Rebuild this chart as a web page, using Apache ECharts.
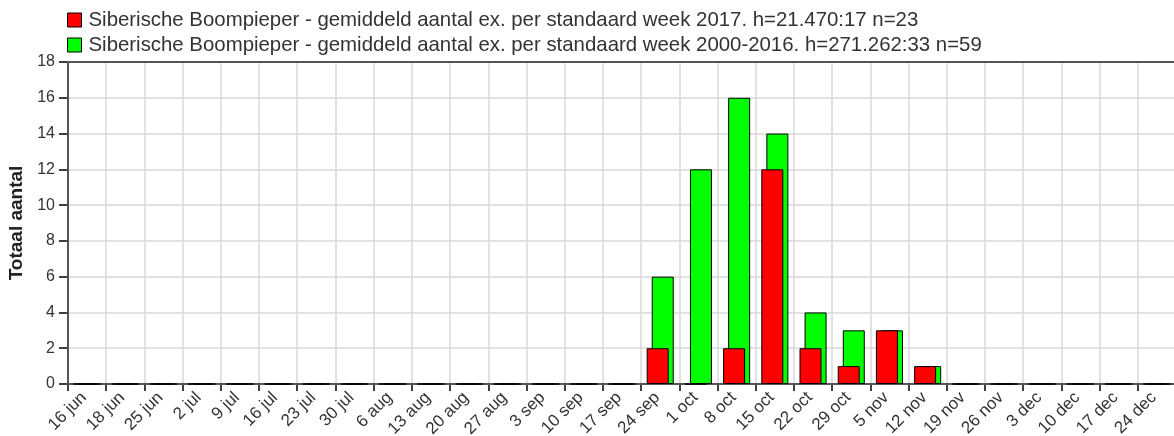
<!DOCTYPE html>
<html>
<head>
<meta charset="utf-8">
<script src="https://cdn.jsdelivr.net/npm/echarts@6/dist/echarts.min.js"></script>
<style>
html,body{margin:0;padding:0;background:#fff;}
#chart{width:1174px;height:436px;}
</style>
</head>
<body>
<div id="chart"></div>
<script>
// Week labels (tick marks at week boundaries)
var weekLabels = ['16 jun','18 jun','25 jun','2 jul','9 jul','16 jul','23 jul','30 jul','6 aug','13 aug','20 aug','27 aug','3 sep','10 sep','17 sep','24 sep','1 oct','8 oct','15 oct','22 oct','29 oct','5 nov','12 nov','19 nov','26 nov','3 dec','10 dec','17 dec','24 dec'];
// Average counts per standard week
var values2017 = [0,0,0,0,0,0,0,0,0,0,0,0,0,0,0,2,0,2,12,2,1,3,1,0,0,0,0,0,0];
var values2000_2016 = [0,0,0,0,0,0,0,0,0,0,0,0,0,0,0,6,12,16,14,4,3,3,1,0,0,0,0,0,0];
var seriesNames = [
  'Siberische Boompieper - gemiddeld aantal ex. per standaard week 2017. h=21.470:17 n=23',
  'Siberische Boompieper - gemiddeld aantal ex. per standaard week 2000-2016. h=271.262:33 n=59'
];
var yTicks = {min: 0, max: 18, interval: 2};

var font = "'Liberation Sans', Arial, sans-serif";
var chart = echarts.init(document.getElementById('chart'), null, {renderer: 'canvas'});
var labelPoints = weekLabels.concat(['']);

chart.setOption({
  animation: false,
  backgroundColor: '#ffffff',
  textStyle: {fontFamily: font},
  legend: {
    orient: 'vertical',
    left: 67,
    top: 10,
    padding: 0,
    itemWidth: 14,
    itemHeight: 14,
    itemGap: 5,
    icon: 'rect',
    data: seriesNames,
    itemStyle: {borderColor: '#000', borderWidth: 1},
    textStyle: {fontSize: 20.4, lineHeight: 20, color: '#333', fontFamily: font, padding: [0, 0, 0, 2]}
  },
  grid: {
    left: 68,
    top: 62,
    width: 1108,
    height: 322,
    containLabel: false,
    outerBoundsMode: 'none',
    show: true,
    z: 1,
    borderColor: '#555',
    borderWidth: 2,
    backgroundColor: 'transparent'
  },
  xAxis: [
    {
      type: 'category',
      data: weekLabels,
      boundaryGap: true,
      axisLine: {show: false},
      axisTick: {show: false},
      axisLabel: {show: false},
      splitLine: {show: false}
    },
    {
      type: 'category',
      data: labelPoints,
      boundaryGap: false,
      position: 'bottom',
      axisLine: {show: true, lineStyle: {color: '#000', width: 1.5}},
      axisTick: {show: true, length: 7, lineStyle: {color: '#000', width: 1.5}},
      axisLabel: {show: true, rotate: 45, interval: 0, fontSize: 17, color: '#333', margin: -5, verticalAlign: 'top', padding: [14, 0, 0, 0], fontFamily: font},
      splitLine: {show: true, interval: 0, lineStyle: {color: '#d9d9d9', width: 1.5}}
    }
  ],
  yAxis: {
    type: 'value',
    min: yTicks.min,
    max: yTicks.max,
    interval: yTicks.interval,
    name: 'Totaal aantal',
    nameLocation: 'middle',
    nameGap: 41,
    nameTextStyle: {fontSize: 19, fontWeight: 'bold', color: '#222', fontFamily: font},
    axisLine: {show: true, lineStyle: {color: '#000', width: 1.5}},
    axisTick: {show: true, length: 9, lineStyle: {color: '#000', width: 1.5}},
    axisLabel: {fontSize: 16, color: '#333', margin: 13, fontFamily: font},
    splitLine: {show: true, lineStyle: {color: '#d9d9d9', width: 1.5}}
  },
  series: [
    {
      name: seriesNames[0],
      type: 'bar',
      xAxisIndex: 0,
      data: values2017,
      barWidth: 22,
      barGap: '-77%',
      z: 3,
      itemStyle: {color: '#ff0000', borderColor: '#000', borderWidth: 1}
    },
    {
      name: seriesNames[1],
      type: 'bar',
      xAxisIndex: 0,
      data: values2000_2016,
      barWidth: 22,
      barGap: '-77%',
      z: 2,
      itemStyle: {color: '#00ff00', borderColor: '#000', borderWidth: 1}
    }
  ]
});
</script>
</body>
</html>
